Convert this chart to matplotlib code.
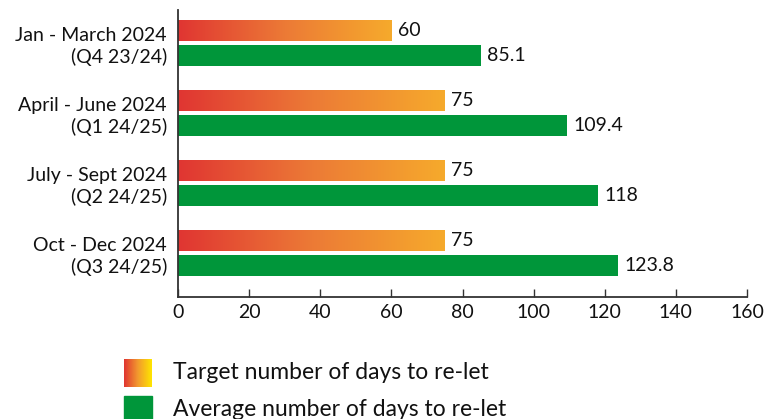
import matplotlib.pyplot as plt
import numpy as np
from matplotlib.colors import LinearSegmentedColormap
from matplotlib.patches import Rectangle

plt.rcParams['font.family'] = ['Lato', 'DejaVu Sans']

periods = ['Jan - March 2024\n(Q4 23/24)', 'April - June 2024\n(Q1 24/25)',
           'July - Sept 2024\n(Q2 24/25)', 'Oct - Dec 2024\n(Q3 24/25)']
target = [60, 75, 75, 75]
average = [85.1, 109.4, 118, 123.8]

green = '#00963A'
bar_cmap = LinearSegmentedColormap.from_list('tgt', ['#E03532', '#EC7A36', '#F6AA2C'])
leg_cmap = LinearSegmentedColormap.from_list('leg', ['#E03532', '#F29A2E', '#FFE600'])
grad = np.linspace(0, 1, 256).reshape(1, -1)

fig = plt.figure(figsize=(7.79, 4.19), dpi=100)
ax = fig.add_axes([178 / 779, 1 - 297 / 419, (747 - 178) / 779, (297 - 10) / 419])

h = 0.3
off = 0.175
for i in range(len(periods)):
    y0 = i - off
    ax.imshow(grad, cmap=bar_cmap, aspect='auto',
              extent=[0, target[i], y0 + h / 2, y0 - h / 2], zorder=2)
    ax.text(target[i] + 1.8, y0, str(target[i]), va='center', ha='left', fontsize=14, color='#111111')
    ax.barh(i + off, average[i], height=h, color=green, zorder=2)
    ax.text(average[i] + 1.8, i + off, f'{average[i]:g}', va='center', ha='left', fontsize=14, color='#111111')

ax.set_xlim(0, 160)
ax.set_ylim(3 + 0.625, -0.475)
ax.set_xticks(range(0, 161, 20))
ax.set_yticks(range(len(periods)))
ax.set_yticklabels(periods, fontsize=14, linespacing=1.25, color='#111111')
ax.tick_params(axis='y', length=0, pad=8)
ax.tick_params(axis='x', direction='in', length=6, width=1, labelsize=14, colors='#333333',
               labelcolor='#111111', pad=5)
for s in ['top', 'right']:
    ax.spines[s].set_visible(False)
for s in ['left', 'bottom']:
    ax.spines[s].set_color('#333333')
    ax.spines[s].set_linewidth(1.3)

# legend
lax1 = fig.add_axes([124 / 779, 1 - 387 / 419, 28 / 779, 28 / 419])
lax1.imshow(grad, cmap=leg_cmap, aspect='auto')
lax1.axis('off')
fig.patches.append(Rectangle((124 / 779, 1 - 424 / 419), 28 / 779, 28 / 419,
                             transform=fig.transFigure, color=green))
fig.text(173 / 779, 1 - 372 / 419, 'Target number of days to re-let', fontsize=16.5,
         va='center', ha='left', color='#111111')
fig.text(173 / 779, 1 - 409 / 419, 'Average number of days to re-let', fontsize=16.5,
         va='center', ha='left', color='#111111')

fig.savefig('out.png', dpi=100)
